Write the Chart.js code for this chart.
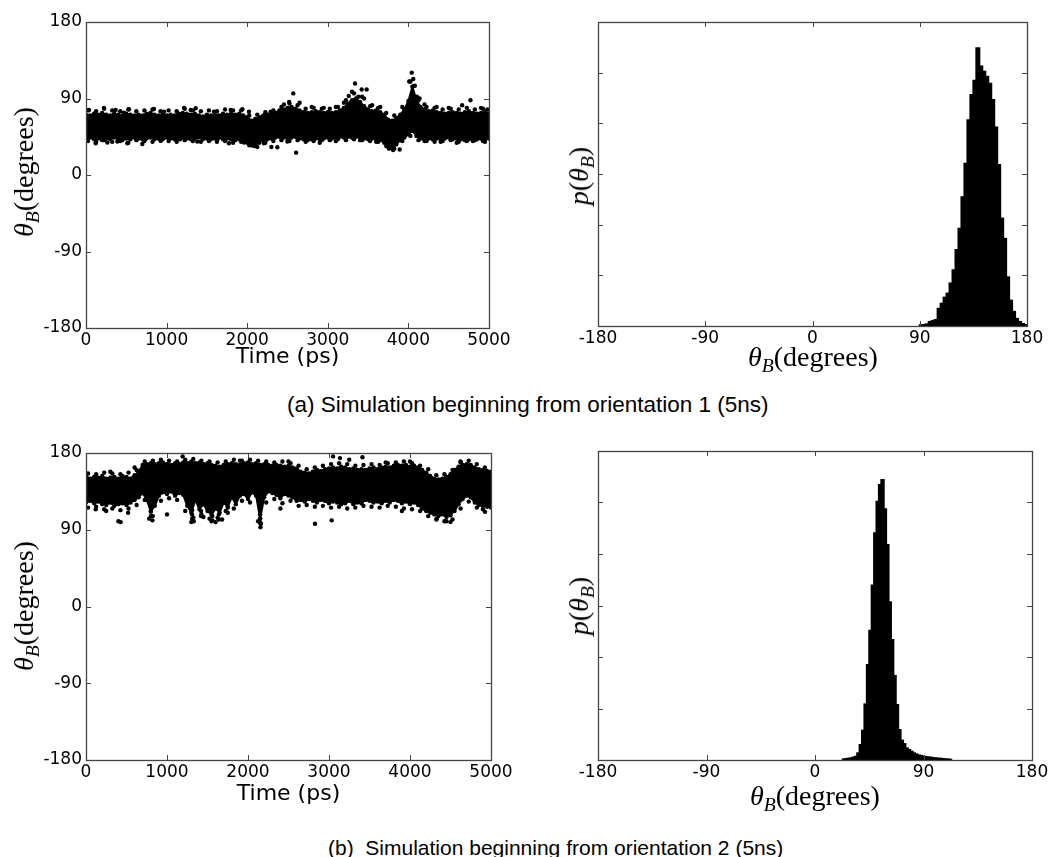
<!DOCTYPE html>
<html>
<head>
<meta charset="utf-8">
<script src="https://cdn.jsdelivr.net/npm/chart.js@4.4.1/dist/chart.umd.min.js"></script>
<style>
  body { margin: 0; background: #fff; }
  #page { position: relative; width: 1060px; height: 857px; overflow: hidden; }
  canvas { position: absolute; }
  .lbl { position: absolute; font-family: "Liberation Serif", serif; font-size: 28px; line-height: 1;
         white-space: nowrap; transform: translate(-50%, -50%); color: #000; }
  .lbl.v { transform: translate(-50%, -50%) rotate(-90deg); }
  .lbl sub { font-size: 0.7em; vertical-align: -0.3em; line-height: 0; }
  .cap { position: absolute; font-family: "Liberation Sans", Arial, sans-serif; font-size: 21px;
         line-height: 1; white-space: pre; color: #000; }
</style>
</head>
<body>
<div id="page">
  <canvas id="c1" width="530" height="380" style="left:0;top:0"></canvas>
  <canvas id="c2" width="530" height="380" style="left:530px;top:0"></canvas>
  <canvas id="c3" width="530" height="380" style="left:0;top:430px"></canvas>
  <canvas id="c4" width="530" height="380" style="left:530px;top:430px"></canvas>

  <div class="lbl v" style="left:24px;top:172px"><i>θ</i><sub><i>B</i></sub>(degrees)</div>
  <div class="lbl v" style="left:579px;top:176px"><i>p</i>(<i>θ</i><sub><i>B</i></sub>)</div>
  <div class="lbl" style="left:813px;top:357px"><i>θ</i><sub><i>B</i></sub>(degrees)</div>
  <div class="cap" style="left:287px;top:394px;font-size:22.5px">(a) Simulation beginning from orientation 1 (5ns)</div>

  <div class="lbl v" style="left:24px;top:606px"><i>θ</i><sub><i>B</i></sub>(degrees)</div>
  <div class="lbl v" style="left:579px;top:606px"><i>p</i>(<i>θ</i><sub><i>B</i></sub>)</div>
  <div class="lbl" style="left:815px;top:796px"><i>θ</i><sub><i>B</i></sub>(degrees)</div>
  <div class="cap" style="left:328px;top:837px">(b)  Simulation beginning from orientation 2 (5ns)</div>
</div>

<script>
// sample times (ps) of the band edges
const TIME = [
  0, 50, 100, 150, 200, 250, 300, 350, 400, 450,
  500, 550, 600, 650, 700, 750, 800, 850, 900, 950,
  1000, 1050, 1100, 1150, 1200, 1250, 1300, 1350, 1400, 1450,
  1500, 1550, 1600, 1650, 1700, 1750, 1800, 1850, 1900, 1950,
  2000, 2050, 2100, 2150, 2200, 2250, 2300, 2350, 2400, 2450,
  2500, 2550, 2600, 2650, 2700, 2750, 2800, 2850, 2900, 2950,
  3000, 3050, 3100, 3150, 3200, 3250, 3300, 3350, 3400, 3450,
  3500, 3550, 3600, 3650, 3700, 3750, 3800, 3850, 3900, 3950,
  4000, 4050, 4100, 4150, 4200, 4250, 4300, 4350, 4400, 4450,
  4500, 4550, 4600, 4650, 4700, 4750, 4800, 4850, 4900, 4950,
  5000];
// times of the loose dots just outside the band
const FRINGE_T = [
  25, 125, 225, 325, 425, 525, 625, 725, 825, 925,
  1025, 1125, 1225, 1325, 1425, 1525, 1625, 1725, 1825, 1925,
  2025, 2125, 2225, 2325, 2425, 2525, 2625, 2725, 2825, 2925,
  3025, 3125, 3225, 3325, 3425, 3525, 3625, 3725, 3825, 3925,
  4025, 4125, 4225, 4325, 4425, 4525, 4625, 4725, 4825, 4925];

// (a) orientation 1: dense band top / bottom (degrees)
const A_UPPER = [
  71, 70, 72, 71, 73, 71, 70, 72, 71, 70,
  72, 71, 70, 71, 70, 72, 73, 71, 70, 71,
  70, 71, 70, 72, 73, 72, 71, 72, 70, 69,
  71, 70, 71, 70, 72, 71, 72, 71, 72, 70,
  68, 64, 66, 68, 70, 71, 72, 73, 76, 77,
  79, 80, 78, 76, 74, 73, 74, 75, 74, 73,
  74, 73, 74, 76, 79, 84, 88, 90, 86, 81,
  77, 75, 76, 74, 71, 65, 64, 67, 71, 77,
  87, 104, 88, 80, 77, 75, 76, 74, 73, 72,
  73, 74, 73, 72, 74, 75, 73, 72, 73, 74,
  72];
const A_LOWER = [
  43, 44, 42, 43, 41, 43, 42, 44, 42, 41,
  43, 42, 44, 43, 42, 43, 44, 42, 43, 42,
  44, 43, 42, 43, 44, 43, 42, 43, 44, 42,
  43, 42, 43, 44, 42, 43, 42, 41, 42, 41,
  38, 35, 36, 38, 41, 42, 43, 44, 45, 44,
  43, 44, 45, 43, 42, 41, 42, 43, 42, 43,
  44, 43, 44, 45, 44, 45, 44, 45, 44, 43,
  42, 43, 42, 41, 38, 33, 32, 36, 41, 44,
  48, 52, 46, 43, 42, 43, 42, 43, 42, 43,
  44, 42, 43, 42, 41, 42, 43, 42, 43, 42,
  43];
const A_FRINGE_HI = [
  76, 75, 78, 76, 75, 77, 75, 76, 77, 75,
  76, 75, 78, 76, 75, 76, 75, 77, 76, 76,
  70, 71, 74, 76, 80, 84, 82, 78, 79, 78,
  78, 80, 88, 96, 92, 81, 79, 73, 70, 80,
  110, 88, 80, 79, 77, 78, 77, 79, 77, 78];
const A_FRINGE_LO = [
  40, 39, 41, 39, 40, 38, 41, 40, 39, 41,
  40, 39, 41, 40, 39, 40, 39, 40, 38, 39,
  35, 33, 38, 40, 41, 40, 41, 39, 40, 41,
  41, 42, 41, 42, 41, 40, 39, 34, 31, 40,
  46, 41, 40, 39, 40, 41, 39, 40, 41, 40];
// isolated points further out
const A_OUT_T = [
  37, 223, 368, 471, 533, 843, 968, 1216, 1299, 1361,
  1588, 1795, 1940, 2022, 2229, 2291, 2456, 2520, 2572, 2650,
  2800, 2950, 3100, 3200, 3260, 3300, 3338, 3379, 3420, 3482,
  3450, 3550, 3650, 4010, 4041, 4060, 4080, 4105, 4138, 4200,
  4350, 4500, 4667, 4770, 4900, 4980,
  120, 265, 389, 513, 699, 927, 1166, 1381, 1629, 1774,
  1960, 2084, 2208, 2300, 2374, 2498, 2607, 2900, 3100, 3400,
  3600, 3760, 3810, 3892, 4200, 4400, 4600, 4800, 4950];
const A_OUT_Y = [
  76.5, 79, 76.5, 73.4, 77.3, 77.7, 74.5, 79, 76.5, 78.5,
  74.5, 76.5, 77.3, 74.5, 72.5, 74.5, 83, 86, 96, 85,
  80, 79, 80, 85, 93, 98, 107.7, 92, 100.6, 100.6,
  90, 82, 80, 110, 120.4, 113, 105, 92, 90, 83,
  80, 79, 82, 88, 79, 77,
  37.3, 38.1, 39.3, 37.3, 36.5, 40.1, 42, 39.3, 41.2, 37.3,
  38.1, 34.2, 37.3, 33, 32.6, 39.3, 26.3, 38, 40, 41,
  39, 31, 29.5, 30, 40, 39, 38, 40, 39];

// (a) histogram: bin centres (deg) and density
const A_BINS = [
  91.25, 93.75, 96.25, 98.75, 101.25, 103.75, 106.25, 108.75, 111.25, 113.75,
  116.25, 118.75, 121.25, 123.75, 126.25, 128.75, 131.25, 133.75, 136.25, 138.75,
  141.25, 143.75, 146.25, 148.75, 151.25, 153.75, 156.25, 158.75, 161.25, 163.75,
  166.25, 168.75, 171.25, 173.75, 176.25, 178.75];
const A_DENS = [
  0.00007, 0.0001, 0.00016, 0.0004, 0.0005, 0.0006, 0.0017, 0.0022, 0.0028, 0.0032,
  0.0042, 0.0055, 0.0075, 0.0096, 0.0127, 0.0160, 0.0203, 0.0228, 0.0242, 0.0274,
  0.0256, 0.0251, 0.0246, 0.0239, 0.0223, 0.0196, 0.0159, 0.0106, 0.0086, 0.0048,
  0.0025, 0.0014, 0.0007, 0.0004, 0.0002, 0.0001];

// (b) orientation 2: dense band top / bottom (degrees)
const B_UPPER = [
  153, 150, 152, 151, 153, 150, 151, 152, 150, 153,
  152, 150, 154, 158, 166, 167, 168, 167, 168, 169,
  167, 166, 168, 167, 169, 168, 170, 168, 169, 167,
  168, 166, 165, 164, 166, 167, 168, 167, 166, 168,
  169, 167, 168, 166, 167, 166, 165, 166, 165, 164,
  165, 163, 162, 158, 157, 156, 158, 160, 159, 161,
  162, 163, 162, 164, 163, 161, 162, 160, 161, 160,
  162, 163, 161, 163, 164, 163, 165, 166, 165, 166,
  164, 165, 163, 160, 157, 153, 150, 149, 150, 152,
  155, 160, 164, 166, 167, 166, 163, 161, 160, 159,
  158];
const B_LOWER = [
  122, 124, 121, 123, 120, 119, 122, 118, 120, 121,
  119, 122, 125, 128, 133, 125, 112, 118, 130, 134,
  132, 135, 130, 133, 131, 118, 110, 125, 114, 120,
  112, 108, 115, 110, 122, 117, 128, 120, 130, 132,
  126, 134, 130, 103, 128, 135, 133, 131, 127, 132,
  130, 128, 124, 125, 123, 126, 124, 122, 125, 124,
  121, 123, 122, 120, 121, 124, 120, 122, 121, 125,
  124, 122, 123, 121, 124, 122, 125, 124, 121, 123,
  120, 122, 119, 115, 112, 110, 108, 106, 108, 105,
  107, 112, 120, 126, 130, 128, 122, 119, 118, 117,
  116];
const B_FRINGE_HI = [
  156, 155, 157, 156, 155, 157, 160, 170, 171, 172,
  171, 170, 172, 173, 171, 170, 169, 170, 172, 171,
  172, 171, 170, 169, 170, 168, 165, 161, 163, 165,
  167, 168, 167, 165, 166, 167, 166, 168, 169, 170,
  168, 165, 161, 154, 155, 160, 169, 171, 167, 163];
const B_FRINGE_LO = [
  116, 117, 114, 115, 113, 115, 119, 125, 106, 124,
  127, 125, 112, 104, 108, 103, 104, 112, 115, 124,
  122, 100, 122, 126, 121, 124, 118, 119, 117, 118,
  116, 117, 115, 116, 118, 117, 116, 118, 117, 115,
  114, 112, 106, 102, 100, 102, 115, 123, 116, 111];
const B_OUT_T = [
  120, 250, 400, 428, 520, 300, 600, 780, 820, 1000,
  1193, 1300, 1330, 1450, 1550, 1600, 1680, 1900, 2154, 2160,
  2400, 2500, 2827, 3033, 3050, 3136, 3250, 3413, 3700, 3900,
  4000, 4330, 4450, 4500, 4623, 4900,
  800, 800, 800, 1310, 1310, 1310, 1420, 1420, 1560, 1560,
  1560, 1640, 1640, 2150, 2150, 2150, 2150, 2150, 1750, 1750];
const B_OUT_Y = [
  114, 112, 100, 99, 110, 158, 163, 103, 101, 108,
  176, 99, 100, 105, 100, 99, 102, 171, 93, 97,
  115, 170, 97, 101, 176, 174, 172, 175, 169, 112,
  170, 103, 100, 99, 170, 114,
  106, 111, 116, 103, 108, 113, 106, 112, 101, 106,
  112, 102, 108, 98, 103, 108, 114, 120, 110, 116];

// (b) histogram
const B_BINS = [
  24, 26, 28, 30, 32, 34, 36, 38, 40, 42,
  44, 46, 48, 50, 52, 54, 56, 58, 60, 62,
  64, 66, 68, 70, 72, 74, 76, 78, 80, 82,
  84, 86, 88, 90, 92, 94, 96, 98, 100, 102,
  104, 106, 108, 110, 112];
const B_DENS = [
  0.00006, 0.0001, 0.00013, 0.00016, 0.00023, 0.00032, 0.00065, 0.00146, 0.00285, 0.0054,
  0.00922, 0.01256, 0.01693, 0.02201, 0.02508, 0.0267, 0.02718, 0.02434, 0.02087, 0.01531,
  0.01165, 0.00816, 0.00534, 0.00291, 0.00188, 0.00155, 0.00113, 0.00097, 0.00081, 0.00065,
  0.00055, 0.00045, 0.00039, 0.00032, 0.00029, 0.00026, 0.00023, 0.00019, 0.00016, 0.00013,
  0.00013, 0.0001, 0.00006, 0.00006, 0.00003];

Chart.defaults.font.family = 'DejaVu Sans';
Chart.defaults.color = '#000';
Chart.defaults.animation = false;

// matplotlib-style frame with ticks pointing inwards on all four sides
const frameTicks = {
  id: 'frameTicks',
  afterDatasetsDraw(chart) {
    const { ctx, chartArea: a, scales: { x, y } } = chart;
    ctx.save();
    ctx.strokeStyle = '#444';
    ctx.lineWidth = 1;
    ctx.beginPath();
    x.ticks.forEach((t, i) => {
      const px = Math.round(x.getPixelForTick(i)) + 0.5;
      ctx.moveTo(px, a.bottom); ctx.lineTo(px, a.bottom - 5);
      ctx.moveTo(px, a.top); ctx.lineTo(px, a.top + 5);
    });
    y.ticks.forEach((t, i) => {
      const py = Math.round(y.getPixelForTick(i)) + 0.5;
      ctx.moveTo(a.left, py); ctx.lineTo(a.left + 5, py);
      ctx.moveTo(a.right, py); ctx.lineTo(a.right - 5, py);
    });
    ctx.stroke();
    ctx.lineWidth = 1.3;
    ctx.strokeRect(Math.round(a.left) + 0.5, Math.round(a.top) + 0.5,
                   Math.round(a.width), Math.round(a.height));
    ctx.restore();
  }
};

function pts(xs, ys) { return xs.map((x, i) => ({ x: x, y: ys[i] })); }

const tickFont = { family: 'DejaVu Sans', size: 17 };

function baseOptions(pad, yWidth, xHeight) {
  return {
    responsive: false,
    events: [],
    layout: { padding: pad },
    plugins: { legend: { display: false }, tooltip: { enabled: false } },
    scales: {
      x: { type: 'linear', offset: false, grid: { display: false, drawTicks: false }, border: { display: false },
           ticks: { font: tickFont, padding: 2, autoSkip: false, maxRotation: 0, callback: v => String(v) },
           afterFit(s) { s.height = xHeight; } },
      y: { type: 'linear', grid: { display: false, drawTicks: false }, border: { display: false },
           ticks: { font: tickFont, padding: 4, autoSkip: false, callback: v => String(v) },
           afterFit(s) { s.width = yWidth; } }
    }
  };
}

function timeChart(id, upper, lower, hi, lo, outT, outY, pad, xHeight, titlePad) {
  const opts = baseOptions(pad, 86, xHeight);
  opts.scales.x.min = 0; opts.scales.x.max = 5000;
  opts.scales.x.ticks.stepSize = 1000;
  opts.scales.x.title = { display: true, text: 'Time (ps)', font: { family: 'DejaVu Sans', size: 22 },
                          padding: { top: 0, bottom: titlePad } };
  opts.scales.y.min = -180; opts.scales.y.max = 180;
  opts.scales.y.ticks.stepSize = 90;
  const dot = { pointRadius: 2.2, pointBackgroundColor: '#000', pointBorderWidth: 0 };
  return new Chart(document.getElementById(id), {
    type: 'scatter',
    data: { datasets: [
      Object.assign({ data: pts(TIME, upper), showLine: true, borderColor: '#000', borderWidth: 2,
                      backgroundColor: '#000', fill: '+1' }, dot),
      Object.assign({ data: pts(TIME, lower), showLine: true, borderColor: '#000', borderWidth: 2,
                      fill: false }, dot),
      Object.assign({ data: pts(FRINGE_T, hi), showLine: false }, dot),
      Object.assign({ data: pts(FRINGE_T, lo), showLine: false }, dot),
      Object.assign({ data: pts(outT, outY), showLine: false }, dot)
    ] },
    options: opts,
    plugins: [frameTicks]
  });
}

function histChart(id, bins, dens, pad, xHeight) {
  const opts = baseOptions(pad, 68, xHeight);
  opts.scales.x.min = -180; opts.scales.x.max = 180;
  opts.scales.x.ticks.stepSize = 90;
  opts.scales.y.min = 0; opts.scales.y.max = 0.03;
  opts.scales.y.ticks.stepSize = 0.005;
  opts.scales.y.ticks.callback = () => '';
  return new Chart(document.getElementById(id), {
    type: 'bar',
    data: { datasets: [{ data: pts(bins, dens), backgroundColor: '#000', borderWidth: 0, inflateAmount: 1,
                         barPercentage: 1, categoryPercentage: 1, grouped: false }] },
    options: opts,
    plugins: [frameTicks]
  });
}

timeChart('c1', A_UPPER, A_LOWER, A_FRINGE_HI, A_FRINGE_LO, A_OUT_T, A_OUT_Y,
          { left: 0, top: 22, right: 41, bottom: 0 }, 52, 10);
histChart('c2', A_BINS, A_DENS, { left: 0, top: 22, right: 33, bottom: 0 }, 54);
timeChart('c3', B_UPPER, B_LOWER, B_FRINGE_HI, B_FRINGE_LO, B_OUT_T, B_OUT_Y,
          { left: 0, top: 23, right: 39, bottom: 0 }, 50, 3);
histChart('c4', B_BINS, B_DENS, { left: 0, top: 21, right: 28, bottom: 0 }, 50);
</script>
</body>
</html>
